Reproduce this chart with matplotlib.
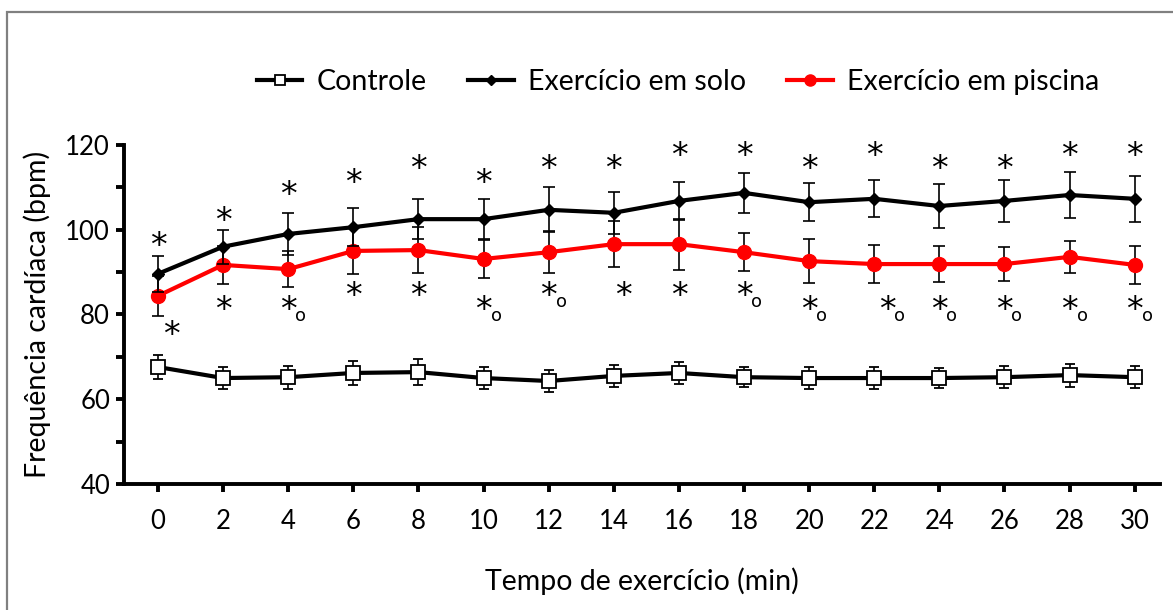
import numpy as np
import matplotlib.pyplot as plt
from matplotlib.patches import Rectangle
from matplotlib.lines import Line2D
from matplotlib.ticker import MultipleLocator

plt.rcParams['font.family'] = ['Lato', 'DejaVu Sans']

# time points (min)
tempo = [0, 2, 4, 6, 8, 10, 12, 14, 16, 18, 20, 22, 24, 26, 28, 30]

# heart rate, mean and error
controle = [67.6, 65.0, 65.2, 66.2, 66.4, 65.0, 64.3, 65.5, 66.2, 65.2, 65.0, 65.0, 65.0, 65.2, 65.7, 65.2]
controle_err = [2.8, 2.7, 2.7, 2.8, 3.0, 2.5, 2.6, 2.6, 2.7, 2.4, 2.6, 2.6, 2.4, 2.6, 2.7, 2.6]
solo = [89.6, 96.0, 99.0, 100.6, 102.5, 102.5, 104.7, 104.0, 106.8, 108.7, 106.5, 107.3, 105.6, 106.8, 108.2, 107.3]
solo_err = [4.2, 4.0, 5.0, 4.5, 4.8, 4.8, 5.3, 5.0, 4.5, 4.7, 4.5, 4.4, 5.2, 4.9, 5.4, 5.4]
piscina = [84.4, 91.7, 90.7, 95.0, 95.2, 93.1, 94.7, 96.6, 96.6, 94.7, 92.6, 91.9, 91.9, 91.9, 93.6, 91.7]
piscina_err = [4.8, 4.5, 4.2, 5.5, 5.5, 4.5, 5.0, 5.5, 6.0, 4.5, 5.2, 4.5, 4.2, 4.0, 3.7, 4.5]

# significance marks
estrela_sup_y = [97.6, 103.5, 109.6, 112.4, 115.8, 112.4, 115.8, 115.8, 118.8, 118.8, 115.8, 118.8, 115.8, 115.8, 118.8, 118.8]
estrela_inf_x = [0.4, 2, 4, 6, 8, 10, 12, 14.3, 16, 18, 20, 22.4, 24, 26, 28, 30]
estrela_inf_y = [76.8, 82.7, 82.7, 86.0, 86.0, 82.7, 86.0, 86.0, 86.0, 86.0, 82.7, 82.7, 82.7, 82.7, 82.7, 82.7]
com_circulo = [False, False, True, False, False, True, True, False, False, True, True, True, True, True, True, True]

fig = plt.figure(figsize=(11.73, 6.1), dpi=100)
fig.patches.append(Rectangle((0.006, -0.1), 1.2, 1.08, transform=fig.transFigure,
                             fill=False, edgecolor='#808080', linewidth=1.6))
ax = fig.add_axes([0.1057, 0.2066, 0.8833, 0.5557])

ax.errorbar(tempo, controle, yerr=controle_err, color='black', lw=3, marker='s', ms=9.5,
            mfc='white', mec='black', mew=1.3, ecolor='black', elinewidth=1.2, capsize=3.5,
            capthick=1.2, zorder=3)
ax.errorbar(tempo, piscina, yerr=piscina_err, color='red', lw=3, marker='o', ms=10,
            ecolor='black', elinewidth=1.2, capsize=4.5, capthick=1.2, zorder=2)
ax.errorbar(tempo, solo, yerr=solo_err, color='black', lw=3, marker='D', ms=6.5,
            ecolor='black', elinewidth=1.2, capsize=4.5, capthick=1.2, zorder=4)

star_font = ['DejaVu Sans']
for x, y in zip(tempo, estrela_sup_y):
    ax.annotate('*', (x, y), xytext=(0, -2), textcoords='offset points', fontsize=24,
                family=star_font, ha='center', va='center_baseline')
for x, y, c in zip(estrela_inf_x, estrela_inf_y, com_circulo):
    ax.annotate('*', (x, y), xytext=(0, -3), textcoords='offset points', fontsize=24,
                family=star_font, ha='center', va='center_baseline')
    if c:
        ax.annotate('o', (x, y), xytext=(9, -8), textcoords='offset points', fontsize=13,
                    family=star_font, ha='center', va='center_baseline')

ax.set_xlim(-1.045, 30.78)
ax.set_ylim(40, 120)
ax.set_xticks(tempo)
ax.yaxis.set_major_locator(MultipleLocator(20))
ax.yaxis.set_minor_locator(MultipleLocator(10))
ax.spines['top'].set_visible(False)
ax.spines['right'].set_visible(False)
ax.spines['left'].set_linewidth(2.8)
ax.spines['bottom'].set_linewidth(2.8)
ax.tick_params(axis='both', which='both', direction='out', width=2.8, length=6, labelsize=18.5)
ax.tick_params(axis='x', pad=12)
ax.tick_params(axis='y', pad=4)

ax.set_xlabel('Tempo de exercício (min)', fontsize=20.5, labelpad=24)
ax.set_ylabel('Frequência cardíaca (bpm)', fontsize=20.5, labelpad=10)

handles = [
    Line2D([], [], color='black', lw=3, marker='s', ms=7, mfc='white', mec='black', mew=1.3),
    Line2D([], [], color='black', lw=3, marker='D', ms=5.5),
    Line2D([], [], color='red', lw=3, marker='o', ms=8),
]
labels = ['Controle', 'Exercício em solo', 'Exercício em piscina']
fig.legend(handles, labels, ncol=3, frameon=False, fontsize=20.5, loc='center',
           bbox_to_anchor=(0.578, 0.865), handlelength=1.6, columnspacing=1.45, handletextpad=0.5)

fig.savefig('out.png', dpi=100)
